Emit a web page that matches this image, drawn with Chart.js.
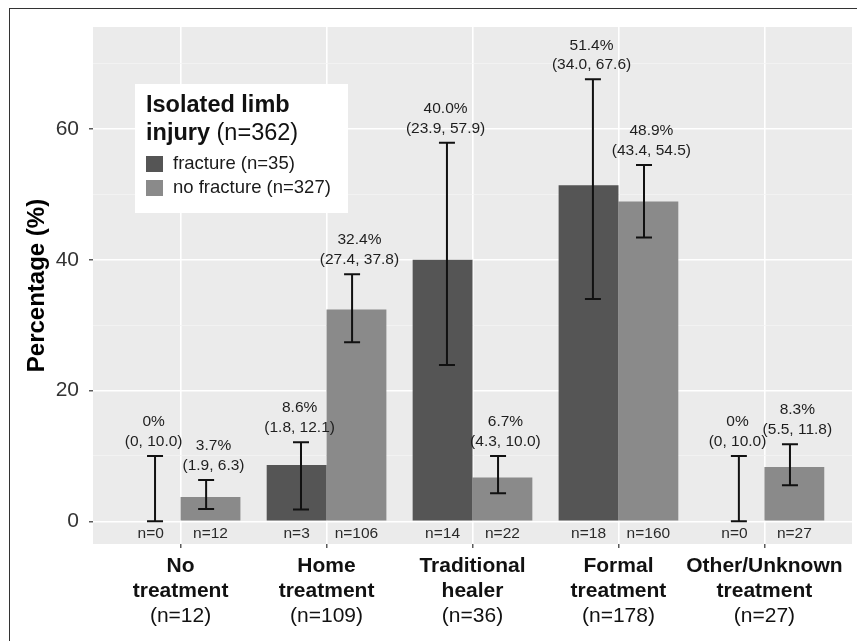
<!DOCTYPE html>
<html>
<head>
<meta charset="utf-8">
<script src="https://cdn.jsdelivr.net/npm/chart.js@4.4.1/dist/chart.umd.min.js"></script>
<style>
  html, body { margin: 0; padding: 0; background: #fff; }
  #wrap { position: relative; width: 857px; height: 641px; overflow: hidden; }
  #frame { position: absolute; left: 9px; top: 8px; width: 900px; height: 700px;
           border-left: 1.5px solid #333; border-top: 1.5px solid #333; pointer-events: none; }
</style>
</head>
<body>
<div id="wrap">
  <canvas id="c" width="857" height="641"></canvas>
  <div id="frame"></div>
</div>
<script>
// Treatment groups (bold lines) and their totals (third line)
const categories = [
  ['No', 'treatment'],
  ['Home', 'treatment'],
  ['Traditional', 'healer'],
  ['Formal', 'treatment'],
  ['Other/Unknown', 'treatment']
];
const categoryTotals = [12, 109, 36, 178, 27];

// Legend
const legendTitleBold = ['Isolated limb', 'injury'];
const legendTitleRest = ' (n=362)';
const seriesNames = ['fracture (n=35)', 'no fracture (n=327)'];

// Fracture: percentage, 95% CI, group size
const fracturePct  = [0, 8.6, 40.0, 51.4, 0];
const fractureLow  = [0, 1.8, 23.9, 34.0, 0];
const fractureHigh = [10.0, 12.1, 57.9, 67.6, 10.0];
const fractureN    = [0, 3, 14, 18, 0];

// No fracture: percentage, 95% CI, group size
const noFracturePct  = [3.7, 32.4, 6.7, 48.9, 8.3];
const noFractureLow  = [1.9, 27.4, 4.3, 43.4, 5.5];
const noFractureHigh = [6.3, 37.8, 10.0, 54.5, 11.8];
const noFractureN    = [12, 106, 22, 160, 27];

// Y axis ticks
const yLabelTicks = [0, 20, 40, 60];
const yMinorTicks = [10, 30, 50, 70];

const FONT = '"Liberation Sans", Arial, Helvetica, sans-serif';
const ERR_DODGE = 0.175;   // error bars sit slightly inside the bar centres

const series = [
  { name: seriesNames[0], color: '#555555', pct: fracturePct, low: fractureLow, high: fractureHigh, n: fractureN, side: -1 },
  { name: seriesNames[1], color: '#8a8a8a', pct: noFracturePct, low: noFractureLow, high: noFractureHigh, n: noFractureN, side: 1 }
];

const fmtPct = v => (v === 0 ? '0' : v.toFixed(1)) + '%';
const fmtNum = v => (v === 0 ? '0' : v.toFixed(1));
const isMajor = v => yLabelTicks.includes(v);

// Grey panel behind the grid
const panelPlugin = {
  id: 'panel',
  beforeDraw(chart) {
    const { ctx, chartArea: a } = chart;
    ctx.save();
    ctx.fillStyle = '#ebebeb';
    ctx.fillRect(a.left, a.top, a.right - a.left, a.bottom - a.top);
    ctx.restore();
  }
};

// Confidence-interval whiskers, value labels and per-bar counts
const errorBarPlugin = {
  id: 'errorBars',
  afterDatasetsDraw(chart) {
    const { ctx } = chart;
    const xs = chart.scales.x, ys = chart.scales.y;
    ctx.save();
    series.forEach((s, d) => {
      const meta = chart.getDatasetMeta(d);
      s.pct.forEach((v, i) => {
        const x = xs.getPixelForValue(i + s.side * ERR_DODGE);
        const yHi = ys.getPixelForValue(s.high[i]);
        const yLo = ys.getPixelForValue(s.low[i]);
        ctx.strokeStyle = '#111';
        ctx.lineWidth = 2;
        ctx.beginPath();
        ctx.moveTo(x, yHi); ctx.lineTo(x, yLo);
        ctx.moveTo(x - 8, yHi); ctx.lineTo(x + 8, yHi);
        ctx.moveTo(x - 8, yLo); ctx.lineTo(x + 8, yLo);
        ctx.stroke();

        const bx = meta.data[i].x;
        ctx.fillStyle = '#1e1e1e';
        ctx.font = '15.5px ' + FONT;
        ctx.textAlign = 'center';
        ctx.textBaseline = 'middle';
        ctx.fillText(fmtPct(v), bx + 3, yHi - 34);
        ctx.fillText('(' + fmtNum(s.low[i]) + ', ' + fmtNum(s.high[i]) + ')', bx + 3, yHi - 14.5);

        ctx.fillStyle = '#2a2a2a';
        ctx.fillText('n=' + s.n[i], bx, ys.getPixelForValue(0) + 12);
      });
    });
    ctx.restore();
  }
};

// Legend box inside the panel and the three-line category labels
const labelsPlugin = {
  id: 'labels',
  afterDraw(chart) {
    const { ctx, chartArea: a } = chart;
    const xs = chart.scales.x;
    ctx.save();

    // category labels
    ctx.textAlign = 'center';
    ctx.textBaseline = 'middle';
    ctx.fillStyle = '#111';
    categories.forEach((lines, i) => {
      const x = xs.getPixelForValue(i);
      ctx.font = 'bold 21px ' + FONT;
      ctx.fillText(lines[0], x, a.bottom + 22);
      ctx.fillText(lines[1], x, a.bottom + 47);
      ctx.font = '21px ' + FONT;
      ctx.fillText('(n=' + categoryTotals[i] + ')', x, a.bottom + 72.5);
    });

    // legend
    const bx = a.left + 42, by = a.top + 57;
    ctx.fillStyle = '#ffffff';
    ctx.fillRect(bx, by, 213, 129);
    ctx.textAlign = 'left';
    ctx.fillStyle = '#111';
    ctx.font = 'bold 23.5px ' + FONT;
    ctx.fillText(legendTitleBold[0], bx + 11, by + 22);
    ctx.fillText(legendTitleBold[1], bx + 11, by + 50);
    const w = ctx.measureText(legendTitleBold[1]).width;
    ctx.font = '23.5px ' + FONT;
    ctx.fillText(legendTitleRest, bx + 11 + w, by + 50);

    ctx.font = '18.5px ' + FONT;
    series.forEach((s, d) => {
      const cy = by + 80 + d * 24;
      ctx.fillStyle = s.color;
      ctx.fillRect(bx + 11, cy - 8, 17, 16);
      ctx.fillStyle = '#1a1a1a';
      ctx.fillText(s.name, bx + 38, cy);
    });
    ctx.restore();
  }
};

new Chart(document.getElementById('c'), {
  type: 'bar',
  data: {
    datasets: series.map(s => ({
      label: s.name,
      data: s.pct.map((v, i) => ({ x: i, y: v })),
      backgroundColor: s.color,
      borderWidth: 0,
      categoryPercentage: 0.82,
      barPercentage: 1.0,
      grouped: true
    }))
  },
  options: {
    responsive: false,
    animation: false,
    layout: { padding: { left: 10, top: 27, right: 5, bottom: 0 } },
    plugins: { legend: { display: false }, tooltip: { enabled: false } },
    scales: {
      x: {
        type: 'linear',
        min: -0.6,
        max: 4.6,
        offset: false,
        afterBuildTicks: s => { s.ticks = categories.map((_, i) => ({ value: i })); },
        afterFit: s => { s.height = 97; },
        ticks: { display: false },
        grid: { offset: false, color: '#ffffff', lineWidth: 1.6, tickColor: '#333', tickLength: 4, tickWidth: 1.2 },
        border: { display: false }
      },
      y: {
        type: 'linear',
        min: -3.47,
        max: 75.6,
        afterBuildTicks: s => {
          s.ticks = yLabelTicks.concat(yMinorTicks).sort((p, q) => p - q).map(v => ({ value: v }));
        },
        afterFit: s => { s.width = 83; },
        ticks: {
          autoSkip: false,
          callback: v => (isMajor(v) ? String(v) : ''),
          font: { family: FONT, size: 21 },
          color: '#333',
          padding: 10
        },
        grid: {
          color: c => (c.tick && isMajor(c.tick.value) ? '#ffffff' : '#f4f4f4'),
          lineWidth: c => (c.tick && isMajor(c.tick.value) ? 1.6 : 0.8),
          tickColor: c => (c.tick && isMajor(c.tick.value) ? '#333' : 'rgba(0,0,0,0)'),
          tickLength: 4,
          tickWidth: 1.2
        },
        border: { display: false },
        title: {
          display: true,
          text: 'Percentage (%)',
          font: { family: FONT, size: 24, weight: 'bold' },
          color: '#000',
          padding: { top: 13, bottom: 0 }
        }
      }
    }
  },
  plugins: [panelPlugin, errorBarPlugin, labelsPlugin]
});
</script>
</body>
</html>
